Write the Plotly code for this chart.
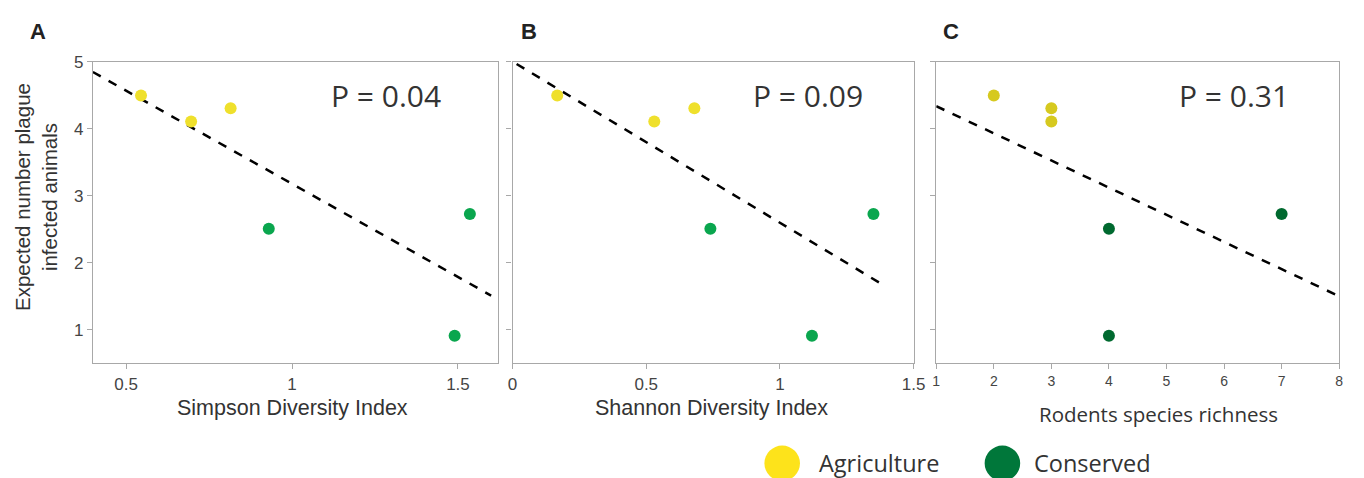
import plotly.graph_objects as go

# ---- data ----
simpson_agri_x = [0.545, 0.696, 0.815]
simpson_agri_y = [4.50, 4.11, 4.31]
simpson_cons_x = [0.93, 1.536, 1.49]
simpson_cons_y = [2.51, 2.73, 0.91]
simpson_fit_x = [0.40, 1.60]
simpson_fit_y = [4.85, 1.51]

shannon_agri_x = [0.167, 0.53, 0.68]
shannon_agri_y = [4.50, 4.11, 4.31]
shannon_cons_x = [0.74, 1.35, 1.12]
shannon_cons_y = [2.51, 2.73, 0.91]
shannon_fit_x = [0.015, 1.39]
shannon_fit_y = [4.97, 1.66]

rich_agri_x = [2, 3, 3]
rich_agri_y = [4.50, 4.31, 4.11]
rich_cons_x = [4, 7, 4]
rich_cons_y = [2.51, 2.73, 0.91]
rich_fit_x = [1, 8]
rich_fit_y = [4.34, 1.50]

p_labels = ["P = 0.04", "P = 0.09", "P = 0.31"]
panel_labels = ["A", "B", "C"]
x_titles = ["Simpson Diversity Index", "Shannon Diversity Index", "Rodents species richness"]
y_title = "Expected number plague<br>infected animals"
legend_labels = ["Agriculture", "Conserved"]

W, H = 1364, 478
AX_FONT = "Liberation Sans, Arial, sans-serif"
CAL_FONT = "Open Sans, sans-serif"

fig = go.Figure()

def add_panel(n, ax, ay, cx, cy, fx, fy, ycol, gcol):
    xa = "x" if n == 1 else f"x{n}"
    ya = "y" if n == 1 else f"y{n}"
    fig.add_trace(go.Scatter(x=fx, y=fy, mode="lines", xaxis=xa, yaxis=ya,
                             line=dict(color="black", width=2.5, dash="dash"),
                             showlegend=False, hoverinfo="skip"))
    fig.add_trace(go.Scatter(x=ax, y=ay, mode="markers", xaxis=xa, yaxis=ya,
                             marker=dict(color=ycol, size=12), showlegend=False))
    fig.add_trace(go.Scatter(x=cx, y=cy, mode="markers", xaxis=xa, yaxis=ya,
                             marker=dict(color=gcol, size=12), showlegend=False))

add_panel(1, simpson_agri_x, simpson_agri_y, simpson_cons_x, simpson_cons_y,
          simpson_fit_x, simpson_fit_y, "#EFE02C", "#0AA64E")
add_panel(2, shannon_agri_x, shannon_agri_y, shannon_cons_x, shannon_cons_y,
          shannon_fit_x, shannon_fit_y, "#EFE02C", "#0AA64E")
add_panel(3, rich_agri_x, rich_agri_y, rich_cons_x, rich_cons_y,
          rich_fit_x, rich_fit_y, "#D6C91F", "#00692F")

ytop = 1 - 54 / H
ybot = 1 - 361 / H
doms = [(89 / W, 499 / W), (514 / W, 920 / W), (943 / W, 1351 / W)]

axis_common = dict(showline=True, linecolor="#A8A8A8", linewidth=1.2, mirror=True,
                   ticks="outside", ticklen=5, tickcolor="#A8A8A8", showgrid=False,
                   zeroline=False, tickfont=dict(family=AX_FONT, size=17, color="#444"))

fig.update_layout(
    width=W, height=H, margin=dict(l=0, r=0, t=0, b=0),
    plot_bgcolor="white", paper_bgcolor="white",
    xaxis=dict(domain=doms[0], range=[0.4, 1.62], tickvals=[0.5, 1, 1.5],
               ticktext=["0.5", "1", "1.5"], anchor="y", **axis_common),
    yaxis=dict(domain=[ybot, ytop], range=[0.5, 5], tickvals=[1, 2, 3, 4, 5],
               anchor="x", **axis_common),
    xaxis2=dict(domain=doms[1], range=[0, 1.5], tickvals=[0, 0.5, 1, 1.5],
                ticktext=["0", "0.5", "1", "1.5"], anchor="y2", **axis_common),
    yaxis2=dict(domain=[ybot, ytop], range=[0.5, 5], tickvals=[1, 2, 3, 4, 5],
                showticklabels=False, anchor="x2", **axis_common),
    xaxis3=dict(domain=doms[2], range=[1, 8], tickvals=[1, 2, 3, 4, 5, 6, 7, 8],
                anchor="y3",
                **{**axis_common, "tickfont": dict(family=AX_FONT, size=14, color="#444")}),
    yaxis3=dict(domain=[ybot, ytop], range=[0.5, 5], tickvals=[1, 2, 3, 4, 5],
                showticklabels=False, anchor="x3", **axis_common),
)

annotations = []
# Y axis title (two lines)
annotations.append(dict(text=y_title, xref="paper",
                        yref="paper", x=32 / W, y=1 - 192 / H, textangle=-90,
                        showarrow=False, font=dict(family=AX_FONT, size=20.5, color="#333"),
                        xanchor="center", yanchor="middle"))
# X axis titles
for lab, px, py, fam, fs in zip(x_titles, [291, 715, 1168], [407, 407, 413],
                                [AX_FONT, AX_FONT, CAL_FONT], [21.5, 21.5, 20.5]):
    annotations.append(dict(text=lab, xref="paper", yref="paper", x=px / W,
                            y=1 - py / H, showarrow=False,
                            font=dict(family=fam, size=fs, color="#333"),
                            xanchor="center", yanchor="middle"))
# Panel labels
for lab, px in zip(panel_labels, [33, 531, 958]):
    annotations.append(dict(text=f"<b>{lab}</b>", xref="paper", yref="paper",
                            x=px / W, y=1 - 23 / H, showarrow=False,
                            font=dict(family=AX_FONT, size=22, color="#222"),
                            xanchor="center", yanchor="middle"))
# P values
for lab, px in zip(p_labels, [386, 813, 1245]):
    annotations.append(dict(text=lab, xref="paper", yref="paper", x=px / W,
                            y=1 - 88 / H, showarrow=False,
                            font=dict(family=CAL_FONT, size=30, color="#333"),
                            xanchor="center", yanchor="middle"))
# Legend
leg_cols = ["#FDE31B", "#00773A"]
leg_cx = [787, 1010]
leg_tx = [822, 1040]
shapes = []
for lab, col, cxp, txp in zip(legend_labels, leg_cols, leg_cx, leg_tx):
    r = 18
    shapes.append(dict(type="circle", xref="paper", yref="paper",
                       x0=(cxp - r) / W, x1=(cxp + r) / W,
                       y0=1 - (463 + r) / H, y1=1 - (463 - r) / H,
                       fillcolor=col, line=dict(width=0)))
    annotations.append(dict(text=lab, xref="paper", yref="paper", x=txp / W,
                            y=1 - 463 / H, showarrow=False,
                            font=dict(family=CAL_FONT, size=23.5, color="#333"),
                            xanchor="left", yanchor="middle"))

fig.update_layout(annotations=annotations, shapes=shapes)
fig.write_html("out.html", config={"displayModeBar": False},
               post_script="document.body.style.margin='0';document.body.style.overflow='hidden';")
